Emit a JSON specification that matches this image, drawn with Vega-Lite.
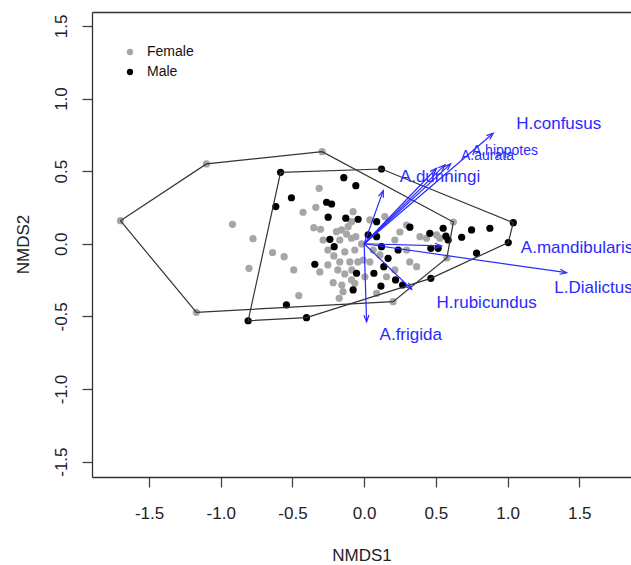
{
  "$schema": "https://vega.github.io/schema/vega-lite/v6.json",
  "width": 539,
  "height": 465,
  "autosize": {"type": "none"},
  "padding": {"left": 92, "top": 12, "right": 0, "bottom": 88},
  "background": "white",
  "config": {
    "view": {"stroke": null},
    "font": "Liberation Sans",
    "axis": {
      "grid": false,
      "domainColor": "#333333",
      "domainWidth": 1.3,
      "tickColor": "#444444",
      "tickWidth": 1.3,
      "tickSize": 10,
      "labelFont": "Liberation Sans",
      "labelFontSize": 17,
      "labelColor": "#222222",
      "titleFont": "Liberation Sans",
      "titleFontSize": 17,
      "titleFontWeight": "normal",
      "titleColor": "#222222"
    }
  },
  "datasets": {
    "pts": [
      {"s":"Female","x":-1.700,"y":0.159},{"s":"Female","x":-1.100,"y":0.550},{"s":"Female","x":-0.293,"y":0.634},{"s":"Female","x":-1.170,"y":-0.472},
      {"s":"Female","x":-0.918,"y":0.134},{"s":"Female","x":-0.775,"y":0.035},{"s":"Female","x":-0.639,"y":-0.061},{"s":"Female","x":-0.558,"y":-0.089},
      {"s":"Female","x":-0.803,"y":-0.169},{"s":"Female","x":-0.491,"y":-0.180},{"s":"Female","x":-0.456,"y":-0.357},{"s":"Female","x":-0.314,"y":0.382},
      {"s":"Female","x":-0.337,"y":0.251},{"s":"Female","x":-0.426,"y":0.217},{"s":"Female","x":-0.351,"y":0.111},{"s":"Female","x":-0.304,"y":0.100},
      {"s":"Female","x":-0.286,"y":0.026},{"s":"Female","x":-0.309,"y":-0.194},{"s":"Female","x":-0.216,"y":-0.268},{"s":"Female","x":-0.174,"y":-0.375},
      {"s":"Female","x":-0.077,"y":0.221},{"s":"Female","x":-0.112,"y":0.118},{"s":"Female","x":-0.088,"y":0.152},{"s":"Female","x":-0.193,"y":0.083},
      {"s":"Female","x":-0.158,"y":0.095},{"s":"Female","x":-0.123,"y":0.067},{"s":"Female","x":-0.088,"y":0.038},{"s":"Female","x":-0.058,"y":0.049},
      {"s":"Female","x":-0.170,"y":0.026},{"s":"Female","x":-0.253,"y":-0.043},{"s":"Female","x":-0.211,"y":-0.084},{"s":"Female","x":-0.170,"y":-0.125},
      {"s":"Female","x":-0.135,"y":-0.056},{"s":"Female","x":-0.100,"y":-0.125},{"s":"Female","x":-0.184,"y":-0.180},{"s":"Female","x":-0.135,"y":-0.208},
      {"s":"Female","x":-0.086,"y":-0.180},{"s":"Female","x":-0.044,"y":-0.125},{"s":"Female","x":-0.018,"y":-0.001},{"s":"Female","x":-0.007,"y":-0.112},
      {"s":"Female","x":-0.065,"y":-0.043},{"s":"Female","x":-0.253,"y":-0.146},{"s":"Female","x":-0.156,"y":-0.284},{"s":"Female","x":-0.147,"y":-0.330},
      {"s":"Female","x":-0.088,"y":-0.249},{"s":"Female","x":0.040,"y":0.164},{"s":"Female","x":0.144,"y":0.187},{"s":"Female","x":0.063,"y":-0.043},
      {"s":"Female","x":0.005,"y":-0.227},{"s":"Female","x":0.156,"y":-0.227},{"s":"Female","x":0.296,"y":-0.043},{"s":"Female","x":0.366,"y":-0.158},
      {"s":"Female","x":0.389,"y":0.049},{"s":"Female","x":0.435,"y":0.038},{"s":"Female","x":0.505,"y":0.061},{"s":"Female","x":0.528,"y":0.038},
      {"s":"Female","x":0.202,"y":-0.399},{"s":"Female","x":0.622,"y":0.150},{"s":"Female","x":0.577,"y":-0.098},{"s":"Female","x":0.214,"y":0.026},
      {"s":"Female","x":0.110,"y":-0.077},{"s":"Female","x":0.318,"y":-0.125},{"s":"Female","x":0.040,"y":-0.125},{"s":"Female","x":0.087,"y":-0.341},
      {"s":"Female","x":0.296,"y":0.129},{"s":"Female","x":0.249,"y":0.081},{"s":"Female","x":0.214,"y":-0.180},{"s":"Female","x":-0.065,"y":-0.272},
      {"s":"Male","x":-0.583,"y":0.492},{"s":"Male","x":-0.142,"y":0.455},{"s":"Male","x":-0.058,"y":0.400},{"s":"Male","x":-0.507,"y":0.317},
      {"s":"Male","x":-0.616,"y":0.256},{"s":"Male","x":-0.262,"y":0.286},{"s":"Male","x":-0.227,"y":0.274},{"s":"Male","x":-0.251,"y":0.183},
      {"s":"Male","x":-0.128,"y":0.176},{"s":"Male","x":-0.042,"y":0.169},{"s":"Male","x":-0.239,"y":0.031},{"s":"Male","x":-0.209,"y":-0.020},
      {"s":"Male","x":-0.344,"y":-0.141},{"s":"Male","x":-0.053,"y":-0.203},{"s":"Male","x":-0.077,"y":-0.318},{"s":"Male","x":-0.542,"y":-0.421},
      {"s":"Male","x":-0.402,"y":-0.509},{"s":"Male","x":-0.809,"y":-0.530},{"s":"Male","x":0.121,"y":0.515},{"s":"Male","x":0.087,"y":0.152},
      {"s":"Male","x":0.087,"y":0.049},{"s":"Male","x":0.121,"y":-0.020},{"s":"Male","x":0.167,"y":-0.100},{"s":"Male","x":0.137,"y":-0.158},
      {"s":"Male","x":0.068,"y":-0.203},{"s":"Male","x":0.117,"y":-0.291},{"s":"Male","x":0.219,"y":-0.249},{"s":"Male","x":0.268,"y":-0.284},
      {"s":"Male","x":0.237,"y":-0.043},{"s":"Male","x":0.319,"y":0.114},{"s":"Male","x":0.458,"y":0.072},{"s":"Male","x":0.551,"y":0.107},
      {"s":"Male","x":0.570,"y":0.052},{"s":"Male","x":0.586,"y":0.026},{"s":"Male","x":0.465,"y":-0.031},{"s":"Male","x":0.516,"y":-0.031},
      {"s":"Male","x":0.465,"y":-0.238},{"s":"Male","x":0.680,"y":0.045},{"s":"Male","x":0.749,"y":0.095},{"s":"Male","x":0.784,"y":-0.065},
      {"s":"Male","x":0.877,"y":0.107},{"s":"Male","x":1.040,"y":0.145},{"s":"Male","x":1.005,"y":0.008},{"s":"Male","x":0.028,"y":0.061}
    ],
    "hull": [
      {"s":"Female","o":1,"x":-1.700,"y":0.159},{"s":"Female","o":2,"x":-1.100,"y":0.550},{"s":"Female","o":3,"x":-0.293,"y":0.634},
      {"s":"Female","o":4,"x":0.622,"y":0.150},{"s":"Female","o":5,"x":0.577,"y":-0.098},{"s":"Female","o":6,"x":0.202,"y":-0.399},
      {"s":"Female","o":7,"x":-1.170,"y":-0.472},{"s":"Female","o":8,"x":-1.700,"y":0.159},
      {"s":"Male","o":1,"x":-0.583,"y":0.492},{"s":"Male","o":2,"x":0.121,"y":0.515},{"s":"Male","o":3,"x":1.040,"y":0.145},
      {"s":"Male","o":4,"x":1.005,"y":0.008},{"s":"Male","o":5,"x":0.465,"y":-0.238},{"s":"Male","o":6,"x":-0.402,"y":-0.509},
      {"s":"Male","o":7,"x":-0.809,"y":-0.530},{"s":"Male","o":8,"x":-0.583,"y":0.492}
    ],
    "arrows": [
      {"name":"A.frigida","ox":0,"oy":0,"ax":0.017,"ay":-0.537,"lx":0.325,"ly":-0.663},
      {"name":"H.rubicundus","ox":0,"oy":0,"ax":0.331,"ay":-0.313,"lx":0.854,"ly":-0.444},
      {"name":"L.Dialictus","ox":0,"oy":0,"ax":1.412,"ay":-0.199,"lx":1.600,"ly":-0.341},
      {"name":"A.mandibularis","ox":0,"oy":0,"ax":0.540,"ay":-0.015,"lx":1.485,"ly":-0.065},
      {"name":"A.dunningi","ox":0,"oy":0,"ax":0.505,"ay":0.520,"lx":0.529,"ly":0.424},
      {"name":"A.aurata","ox":0,"oy":0,"ax":0.603,"ay":0.550,"lx":0.860,"ly":0.577},
      {"name":"A.hippotes","ox":0,"oy":0,"ax":0.563,"ay":0.543,"lx":0.982,"ly":0.612},
      {"name":"H.confusus","ox":0,"oy":0,"ax":0.900,"ay":0.761,"lx":1.357,"ly":0.789},
      {"name":"","ox":0,"oy":0,"ax":0.133,"ay":0.366}
    ]
  },
  "layer": [
    {
      "data": {"name": "pts"},
      "mark": {"type": "circle", "size": 52, "opacity": 1},
      "encoding": {
        "x": {"field": "x", "type": "quantitative", "title": "NMDS1",
          "scale": {"domain": [-1.898, 1.861], "nice": false, "zero": false},
          "axis": {"orient": "bottom", "values": [-1.5, -1, -0.5, 0, 0.5, 1, 1.5],
            "labelExpr": "replace(format(datum.value, '.1f'), '\u2212', '-')",
            "labelPadding": 18, "labelBaseline": "top", "titleY": 83.5, "titleBaseline": "alphabetic"}},
        "y": {"field": "y", "type": "quantitative", "title": "NMDS2",
          "scale": {"domain": [-1.606, 1.596], "nice": false, "zero": false},
          "axis": {"values": [-1.5, -1, -0.5, 0, 0.5, 1, 1.5],
            "labelExpr": "replace(format(datum.value, '.1f'), '\u2212', '-')",
            "labelAngle": 270, "labelAlign": "center", "labelBaseline": "alphabetic", "labelPadding": 16,
            "titleAngle": 270, "titleX": -64, "titleY": 232, "titleAlign": "center", "titleBaseline": "alphabetic"}},
        "color": {"field": "s", "type": "nominal",
          "scale": {"domain": ["Female", "Male"], "range": ["#a6a6a6", "#000000"]},
          "legend": {"orient": "none", "legendX": 31, "legendY": 33, "title": null,
            "labelFontSize": 14, "labelFont": "Liberation Sans", "labelColor": "#111111",
            "symbolType": "circle", "symbolSize": 40, "labelOffset": 10, "rowPadding": 6, "padding": 0}}
      }
    },
    {
      "data": {"name": "hull"},
      "mark": {"type": "line", "color": "#333333", "strokeWidth": 1.2},
      "encoding": {
        "x": {"field": "x", "type": "quantitative", "title": null,
          "scale": {"domain": [-1.898, 1.861], "nice": false, "zero": false},
          "axis": {"orient": "top", "labels": false, "ticks": false, "domain": true, "title": null}},
        "y": {"field": "y", "type": "quantitative", "title": "NMDS2",
          "scale": {"domain": [-1.606, 1.596], "nice": false, "zero": false}},
        "detail": {"field": "s", "type": "nominal"},
        "order": {"field": "o", "type": "quantitative"}
      }
    },
    {
      "data": {"name": "arrows"},
      "mark": {"type": "rule", "color": "#2a2aff", "strokeWidth": 1.2},
      "encoding": {
        "x": {"field": "ox", "type": "quantitative", "scale": {"domain": [-1.898, 1.861], "nice": false, "zero": false}, "axis": null},
        "y": {"field": "oy", "type": "quantitative", "title": "NMDS2", "scale": {"domain": [-1.606, 1.596], "nice": false, "zero": false}},
        "x2": {"field": "ax"},
        "y2": {"field": "ay"}
      }
    },
    {
      "data": {"name": "arrows"},
      "transform": [{"calculate": "atan2(-datum.ay * 145.2, datum.ax * 143.3) * 180 / PI", "as": "ang"}],
      "mark": {"type": "point", "shape": "M -1 -0.38 L 0 0 L -1 0.38", "filled": false, "stroke": "#2a2aff", "strokeWidth": 1.2, "size": 180, "opacity": 1},
      "encoding": {
        "x": {"field": "ax", "type": "quantitative", "scale": {"domain": [-1.898, 1.861], "nice": false, "zero": false}, "axis": null},
        "y": {"field": "ay", "type": "quantitative", "title": "NMDS2", "scale": {"domain": [-1.606, 1.596], "nice": false, "zero": false}},
        "angle": {"field": "ang", "type": "quantitative", "scale": null}
      }
    },
    {
      "data": {"name": "arrows"},
      "transform": [{"filter": "isValid(datum.lx) && datum.name != 'A.aurata' && datum.name != 'A.hippotes'"}],
      "mark": {"type": "text", "font": "Liberation Sans", "fontSize": 17, "color": "#2a2aff", "align": "center", "baseline": "alphabetic"},
      "encoding": {
        "x": {"field": "lx", "type": "quantitative", "scale": {"domain": [-1.898, 1.861], "nice": false, "zero": false}, "axis": null},
        "y": {"field": "ly", "type": "quantitative", "title": "NMDS2", "scale": {"domain": [-1.606, 1.596], "nice": false, "zero": false}},
        "text": {"field": "name", "type": "nominal"}
      }
    },
    {
      "data": {"name": "arrows"},
      "transform": [{"filter": "datum.name == 'A.aurata' || datum.name == 'A.hippotes'"}],
      "mark": {"type": "text", "font": "Liberation Sans", "fontSize": 14, "color": "#2a2aff", "align": "center", "baseline": "alphabetic"},
      "encoding": {
        "x": {"field": "lx", "type": "quantitative", "scale": {"domain": [-1.898, 1.861], "nice": false, "zero": false}, "axis": null},
        "y": {"field": "ly", "type": "quantitative", "title": "NMDS2", "scale": {"domain": [-1.606, 1.596], "nice": false, "zero": false}},
        "text": {"field": "name", "type": "nominal"}
      }
    }
  ],
  "resolve": {"axis": {"x": "independent"}}
}
